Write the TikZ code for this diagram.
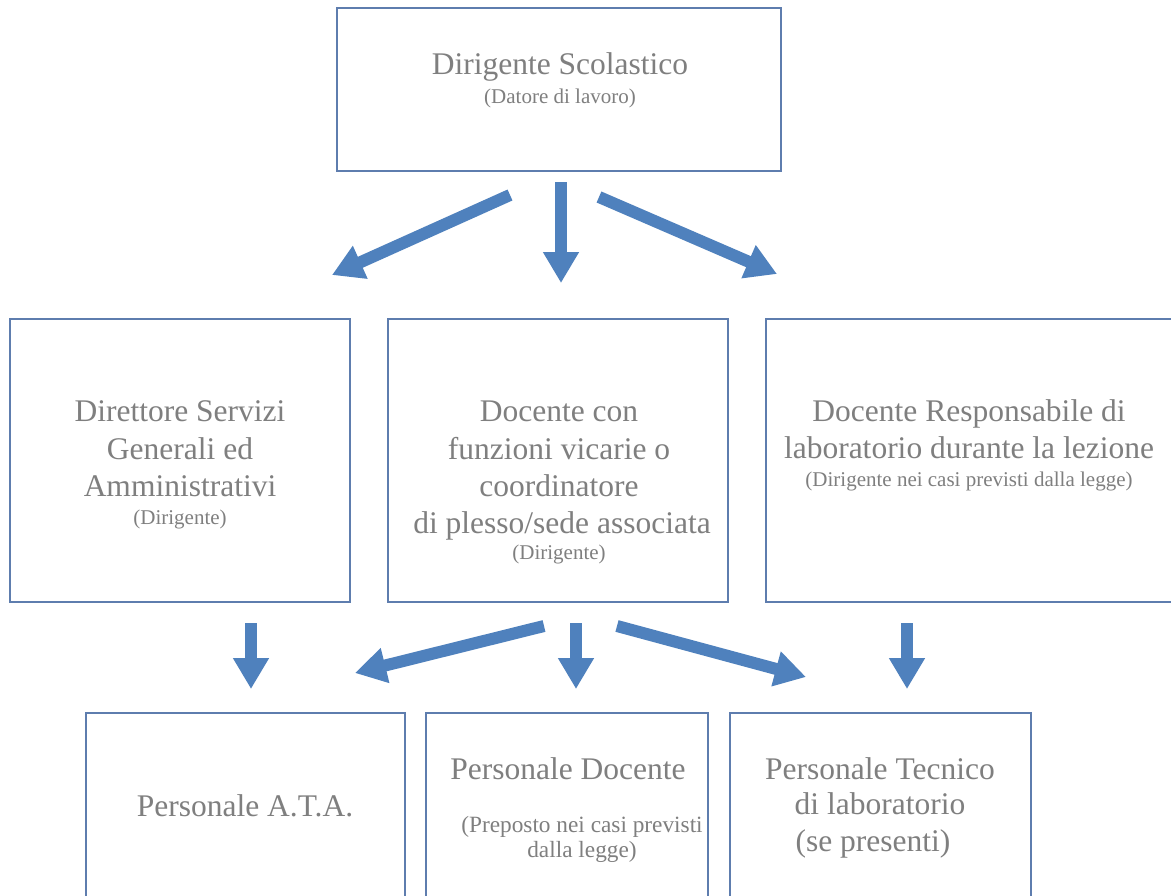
\documentclass[tikz,border=0pt]{standalone}
\usepackage{fontspec}
\setmainfont{Liberation Serif}
\usetikzlibrary{arrows.meta}
\definecolor{boxline}{HTML}{5E7DAE}
\definecolor{arrowblue}{HTML}{4F81BD}
\definecolor{txtgrey}{HTML}{7F7F7F}
\tikzset{
  box/.style={draw=boxline, line width=1.1pt, rectangle, inner sep=0pt, fill=none},
  bigtxt/.style={text=txtgrey, inner sep=0pt, anchor=base, font=\fontsize{31.5pt}{37.5pt}\selectfont},
  smalltxt/.style={text=txtgrey, inner sep=0pt, anchor=base, font=\fontsize{21pt}{25pt}\selectfont},
  midtxt/.style={text=txtgrey, inner sep=0pt, anchor=base, font=\fontsize{23.3pt}{25pt}\selectfont},
  blockarrow/.style={draw=arrowblue, line width=12pt, -{Triangle[width=34pt,length=31pt]}, arrowblue}
}
\begin{document}
\begin{tikzpicture}[x=1pt,y=-1pt]
\useasboundingbox (0,0) rectangle (1171,895);
\clip (0,0) rectangle (1171,895);
\fill[white] (0,0) rectangle (1171,895);

% boxes
\node[box, minimum width=444pt, minimum height=163pt] (top) at (559,89.5) {};
\node[box, minimum width=340pt, minimum height=283pt] (ml) at (180,460.5) {};
\node[box, minimum width=340pt, minimum height=283pt] (mc) at (558,460.5) {};
\node[box, minimum width=440pt, minimum height=283pt] (mr) at (986,460.5) {};
\node[box, minimum width=319pt, minimum height=260pt] (bl) at (245.5,843) {};
\node[box, minimum width=282pt, minimum height=260pt] (bc) at (567,843) {};
\node[box, minimum width=301pt, minimum height=260pt] (br) at (880.5,843) {};

% texts: top
\node[bigtxt] (t1) at (560,74) {Dirigente Scolastico};
\node[smalltxt] (t2) at (560,103) {(Datore di lavoro)};

% middle left
\node[bigtxt] (l1) at (180,421) {Direttore Servizi};
\node[bigtxt] (l2) at (180,459) {Generali ed};
\node[bigtxt] (l3) at (180,496) {Amministrativi};
\node[smalltxt] (l4) at (180,524) {(Dirigente)};

% middle center
\node[bigtxt] (c1) at (559,421) {Docente con};
\node[bigtxt] (c2) at (559,459) {funzioni vicarie o};
\node[bigtxt] (c3) at (559,496) {coordinatore};
\node[bigtxt] (c4) at (562,533) {di plesso/sede associata};
\node[smalltxt] (c5) at (559,559) {(Dirigente)};

% middle right
\node[bigtxt] (r1) at (969,421) {Docente Responsabile di};
\node[bigtxt] (r2) at (969,458) {laboratorio durante la lezione};
\node[smalltxt] (r3) at (969,486) {(Dirigente nei casi previsti dalla legge)};

% bottom left
\node[bigtxt] (b1) at (245,816) {Personale A.T.A.};

% bottom center
\node[bigtxt] (d1) at (568,779) {Personale Docente};
\node[midtxt] (d2) at (582,832) {(Preposto nei casi previsti};
\node[midtxt] (d3) at (582,857) {dalla legge)};

% bottom right
\node[bigtxt] (p1) at (880,779) {Personale Tecnico};
\node[bigtxt] (p2) at (880,814) {di laboratorio};
\node[bigtxt] (p3) at (873,851) {(se presenti)};

% arrow end points
\coordinate (a1s) at (510,195);
\coordinate (a1e) at (332,275);
\coordinate (a2s) at (561,182);
\coordinate (a2e) at (561,283);
\coordinate (a3s) at (599,197);
\coordinate (a3e) at (777,274);

\coordinate (b1s) at (251,623);
\coordinate (b1e) at (251,689);
\coordinate (b2s) at (544,626);
\coordinate (b2e) at (355,673);
\coordinate (b3s) at (576,623);
\coordinate (b3e) at (576,689);
\coordinate (b4s) at (617,626);
\coordinate (b4e) at (806,677);
\coordinate (b5s) at (907,623);
\coordinate (b5e) at (907,689);

\draw[blockarrow] (a1s) -- (a1e);
\draw[blockarrow] (a2s) -- (a2e);
\draw[blockarrow] (a3s) -- (a3e);
\draw[blockarrow] (b1s) -- (b1e);
\draw[blockarrow] (b2s) -- (b2e);
\draw[blockarrow] (b3s) -- (b3e);
\draw[blockarrow] (b4s) -- (b4e);
\draw[blockarrow] (b5s) -- (b5e);
\end{tikzpicture}
\end{document}
